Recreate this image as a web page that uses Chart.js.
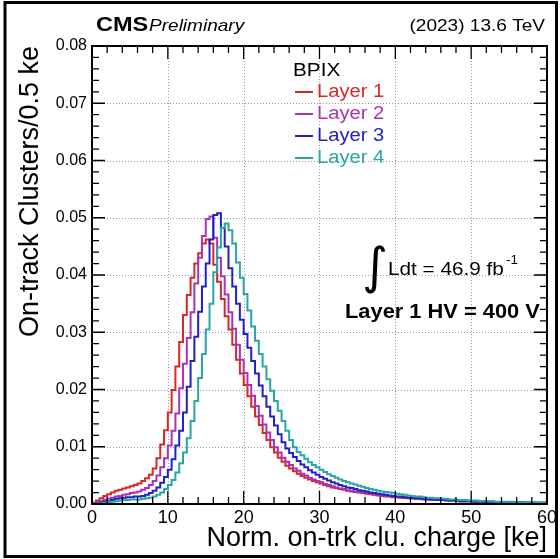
<!DOCTYPE html>
<html>
<head>
<meta charset="utf-8">
<script src="https://cdn.jsdelivr.net/npm/chart.js@4.4.0/dist/chart.umd.min.js"></script>
<style>
  html, body { margin: 0; padding: 0; background: #fff; }
</style>
</head>
<body>
<canvas id="myChart" width="560" height="559"></canvas>
<script>
// histogram binning (ke)
const binWidth = 0.5;
const xMin = 0;
const xMax = 60;

const xTicks = [0, 10, 20, 30, 40, 50, 60];
const yTicks = [0, 0.01, 0.02, 0.03, 0.04, 0.05, 0.06, 0.07, 0.08];

const labels = ['Layer 1', 'Layer 2', 'Layer 3', 'Layer 4'];
const colors = ['#d92727', '#ab33b6', '#2121c8', '#2aa5a5'];

// normalised entries per 0.5 ke bin
let layer1 = [
  0.0002, 0.0006, 0.0010, 0.0014, 0.0017, 0.0020, 0.0023, 0.0025, 0.0027, 0.0029,
  0.0031, 0.0033, 0.0036, 0.0040, 0.0045, 0.0051, 0.0062, 0.0080, 0.0104, 0.0129,
  0.0160, 0.0199, 0.0240, 0.0283, 0.0330, 0.0365, 0.0395, 0.0420, 0.0438, 0.0455,
  0.0462, 0.0455, 0.0418, 0.0388, 0.0358, 0.0328, 0.0305, 0.0278, 0.0252, 0.0228,
  0.0208, 0.0188, 0.0170, 0.0153, 0.0138, 0.0124, 0.0112, 0.0099, 0.0090, 0.0081,
  0.0074, 0.0067, 0.0062, 0.0057, 0.0053, 0.0049, 0.0046, 0.0043, 0.0040, 0.0038,
  0.0036, 0.0033, 0.0031, 0.0029, 0.0028, 0.0026, 0.0025, 0.0023, 0.0022, 0.0021,
  0.0020, 0.0019, 0.0018, 0.0017, 0.0016, 0.0015, 0.0014, 0.0013, 0.0013, 0.0012,
  0.0012, 0.0011, 0.0011, 0.0010, 0.0010, 0.0009, 0.0009, 0.0008, 0.0008, 0.0008,
  0.0007, 0.0007, 0.0007, 0.0006, 0.0006, 0.0006, 0.0005, 0.0005, 0.0005, 0.0005,
  0.0004, 0.0004, 0.0004, 0.0004, 0.0004, 0.0003, 0.0003, 0.0003, 0.0003, 0.0003,
  0.0003, 0.0003, 0.0002, 0.0002, 0.0002, 0.0002, 0.0002, 0.0002, 0.0002, 0.0002
];
let layer2 = [
  0.0001, 0.0003, 0.0005, 0.0007, 0.0009, 0.0011, 0.0013, 0.0014, 0.0016, 0.0017,
  0.0019, 0.0020, 0.0022, 0.0025, 0.0028, 0.0033, 0.0040, 0.0050, 0.0064, 0.0080,
  0.0102, 0.0128, 0.0158, 0.0202, 0.0245, 0.0290, 0.0335, 0.0385, 0.0430, 0.0468,
  0.0498, 0.0502, 0.0465, 0.0430, 0.0398, 0.0366, 0.0335, 0.0306, 0.0278, 0.0252,
  0.0229, 0.0208, 0.0189, 0.0171, 0.0154, 0.0139, 0.0125, 0.0112, 0.0099, 0.0090,
  0.0081, 0.0074, 0.0068, 0.0062, 0.0058, 0.0053, 0.0050, 0.0046, 0.0043, 0.0040,
  0.0038, 0.0035, 0.0033, 0.0031, 0.0029, 0.0027, 0.0026, 0.0024, 0.0023, 0.0022,
  0.0021, 0.0020, 0.0019, 0.0018, 0.0017, 0.0016, 0.0015, 0.0014, 0.0014, 0.0013,
  0.0012, 0.0012, 0.0011, 0.0011, 0.0010, 0.0010, 0.0009, 0.0009, 0.0008, 0.0008,
  0.0008, 0.0007, 0.0007, 0.0007, 0.0006, 0.0006, 0.0006, 0.0005, 0.0005, 0.0005,
  0.0005, 0.0004, 0.0004, 0.0004, 0.0004, 0.0004, 0.0003, 0.0003, 0.0003, 0.0003,
  0.0003, 0.0003, 0.0003, 0.0002, 0.0002, 0.0002, 0.0002, 0.0002, 0.0002, 0.0002
];
let layer3 = [
  0.0000, 0.0001, 0.0002, 0.0004, 0.0005, 0.0007, 0.0009, 0.0010, 0.0011, 0.0012,
  0.0012, 0.0013, 0.0013, 0.0014, 0.0016, 0.0019, 0.0023, 0.0029, 0.0037, 0.0047,
  0.0060, 0.0078, 0.0102, 0.0128, 0.0160, 0.0205, 0.0250, 0.0292, 0.0336, 0.0380,
  0.0420, 0.0462, 0.0505, 0.0508, 0.0482, 0.0450, 0.0412, 0.0380, 0.0350, 0.0322,
  0.0297, 0.0273, 0.0250, 0.0228, 0.0207, 0.0188, 0.0170, 0.0153, 0.0137, 0.0122,
  0.0108, 0.0097, 0.0089, 0.0082, 0.0075, 0.0069, 0.0064, 0.0059, 0.0055, 0.0051,
  0.0047, 0.0044, 0.0041, 0.0038, 0.0036, 0.0033, 0.0031, 0.0029, 0.0028, 0.0026,
  0.0024, 0.0023, 0.0022, 0.0020, 0.0019, 0.0018, 0.0017, 0.0016, 0.0015, 0.0014,
  0.0013, 0.0013, 0.0012, 0.0011, 0.0011, 0.0010, 0.0010, 0.0009, 0.0009, 0.0008,
  0.0008, 0.0007, 0.0007, 0.0007, 0.0006, 0.0006, 0.0006, 0.0005, 0.0005, 0.0005,
  0.0005, 0.0004, 0.0004, 0.0004, 0.0004, 0.0004, 0.0003, 0.0003, 0.0003, 0.0003,
  0.0003, 0.0003, 0.0003, 0.0003, 0.0002, 0.0002, 0.0002, 0.0002, 0.0002, 0.0002
];
let layer4 = [
  0.0000, 0.0001, 0.0001, 0.0002, 0.0003, 0.0004, 0.0005, 0.0006, 0.0007, 0.0007,
  0.0008, 0.0008, 0.0008, 0.0009, 0.0010, 0.0011, 0.0013, 0.0016, 0.0020, 0.0026,
  0.0033, 0.0042, 0.0055, 0.0071, 0.0090, 0.0115, 0.0145, 0.0180, 0.0220, 0.0262,
  0.0305, 0.0350, 0.0405, 0.0448, 0.0482, 0.0490, 0.0478, 0.0455, 0.0422, 0.0395,
  0.0367, 0.0338, 0.0310, 0.0285, 0.0262, 0.0240, 0.0218, 0.0198, 0.0180, 0.0163,
  0.0145, 0.0128, 0.0112, 0.0099, 0.0091, 0.0085, 0.0079, 0.0073, 0.0068, 0.0064,
  0.0060, 0.0056, 0.0052, 0.0049, 0.0046, 0.0043, 0.0040, 0.0038, 0.0036, 0.0034,
  0.0032, 0.0030, 0.0028, 0.0026, 0.0025, 0.0023, 0.0022, 0.0021, 0.0020, 0.0019,
  0.0018, 0.0017, 0.0016, 0.0015, 0.0014, 0.0013, 0.0013, 0.0012, 0.0011, 0.0011,
  0.0010, 0.0010, 0.0009, 0.0009, 0.0008, 0.0008, 0.0007, 0.0007, 0.0007, 0.0006,
  0.0006, 0.0006, 0.0005, 0.0005, 0.0005, 0.0005, 0.0004, 0.0004, 0.0004, 0.0004,
  0.0004, 0.0003, 0.0003, 0.0003, 0.0003, 0.0003, 0.0002, 0.0002, 0.0002, 0.0002
];

// bin left edges + closing edge, drawn as steps
function toSteps(values) {
  let pts = values.map((v, i) => ({x: xMin + i * binWidth, y: v}));
  pts.push({x: xMin + values.length * binWidth, y: values[values.length - 1]});
  return pts;
}

const sx = 1.12; // the original text is a bit wide
function drawText(ctx, str, x, y, font, color, align) {
  ctx.save();
  ctx.font = font;
  ctx.fillStyle = color;
  ctx.textAlign = align || 'left';
  ctx.textBaseline = 'alphabetic';
  ctx.translate(x, y);
  ctx.scale(sx, 1);
  ctx.fillText(str, 0, 0);
  ctx.restore();
}

const rootStyle = {
  id: 'rootStyle',
  beforeDatasetsDraw(chart) {
    const {ctx, chartArea: a, scales: {x, y}} = chart;
    ctx.save();
    ctx.strokeStyle = '#999';
    ctx.lineWidth = 1;
    ctx.setLineDash([1, 2]);
    ctx.beginPath();
    xTicks.slice(1, -1).forEach(v => {
      const px = Math.round(x.getPixelForValue(v)) + 0.5;
      ctx.moveTo(px, a.top); ctx.lineTo(px, a.bottom);
    });
    yTicks.slice(1, -1).forEach(v => {
      const py = Math.round(y.getPixelForValue(v)) + 0.5;
      ctx.moveTo(a.left, py); ctx.lineTo(a.right, py);
    });
    ctx.stroke();
    ctx.restore();
  },
  afterDatasetsDraw(chart) {
    const {ctx, chartArea: a, scales: {x, y}} = chart;
    ctx.save();
    ctx.strokeStyle = '#000';
    ctx.lineWidth = 1.3;
    ctx.beginPath();
    // x ticks: major 10, minor 2
    for (let i = 0; i <= 30; i++) {
      const px = x.getPixelForValue(xMin + i * 2);
      const len = i % 5 === 0 ? 13 : 7;
      ctx.moveTo(px, a.bottom); ctx.lineTo(px, a.bottom - len);
      ctx.moveTo(px, a.top); ctx.lineTo(px, a.top + len);
    }
    // y ticks: major 0.01, minor 0.002
    for (let i = 0; i <= 40; i++) {
      const py = y.getPixelForValue(i * 0.002);
      const len = i % 5 === 0 ? 13 : 7;
      ctx.moveTo(a.left, py); ctx.lineTo(a.left + len, py);
      ctx.moveTo(a.right, py); ctx.lineTo(a.right - len, py);
    }
    ctx.stroke();
    ctx.lineWidth = 2;
    ctx.strokeRect(a.left, a.top, a.right - a.left, a.bottom - a.top);
    ctx.restore();
  },
  afterDraw(chart) {
    const ctx = chart.ctx;
    const f = 'Liberation Sans, Arial, sans-serif';

    drawText(ctx, 'CMS', 96, 31, 'bold 21px ' + f, '#000');
    drawText(ctx, 'Preliminary', 149, 31, 'italic 17px ' + f, '#000');
    drawText(ctx, '(2023) 13.6 TeV', 545, 31, '17px ' + f, '#000', 'right');

    // legend
    drawText(ctx, 'BPIX', 293, 76, '18.5px ' + f, '#000');
    chart.data.datasets.forEach((ds, i) => {
      const base = 97 + i * 22;
      ctx.save();
      ctx.strokeStyle = ds.borderColor;
      ctx.lineWidth = 2;
      ctx.beginPath();
      ctx.moveTo(295, base - 5);
      ctx.lineTo(313, base - 5);
      ctx.stroke();
      ctx.restore();
      drawText(ctx, ds.label, 317, base, '18px ' + f, ds.borderColor);
    });

    // luminosity and HV
    ctx.save();
    ctx.font = '50px DejaVu Sans';
    ctx.fillStyle = '#000';
    ctx.fillText('\u222B', 362, 283);
    ctx.restore();
    drawText(ctx, 'Ldt = 46.9 fb', 388, 275, '18.5px ' + f, '#000');
    drawText(ctx, '-1', 506, 264, '12px ' + f, '#000');
    drawText(ctx, 'Layer 1 HV = 400 V', 345, 318, 'bold 19.5px ' + f, '#000');

    // canvas border
    ctx.save();
    ctx.strokeStyle = '#000';
    ctx.lineWidth = 3;
    ctx.strokeRect(5, 2.5, 551.5, 554);
    ctx.restore();
  }
};

Chart.defaults.font.family = 'Liberation Sans, Arial, sans-serif';
Chart.defaults.color = '#000';

let mychart = document.getElementById('myChart');

let chart = new Chart(mychart, {
  type: 'line',
  data: {
    datasets: [layer1, layer2, layer3, layer4].map((vals, i) => ({
      label: labels[i],
      data: toSteps(vals),
      borderColor: colors[i],
      borderWidth: 2,
      pointRadius: 0,
      fill: false,
      stepped: 'before',
      order: 4 - i
    }))
  },
  options: {
    responsive: false,
    animation: false,
    events: [],
    layout: {padding: {left: 0, right: 12, top: 46, bottom: 0}},
    plugins: {
      legend: {display: false},
      tooltip: {enabled: false}
    },
    scales: {
      x: {
        type: 'linear',
        min: xMin,
        max: xMax,
        afterBuildTicks: s => { s.ticks = xTicks.map(v => ({value: v})); },
        afterFit: s => { s.height = 55; },
        ticks: {font: {size: 18}, padding: 3, maxRotation: 0, autoSkip: false},
        grid: {display: false, drawTicks: false},
        border: {display: false},
        title: {
          display: true,
          text: 'Norm. on-trk clu. charge [ke]',
          align: 'end',
          font: {size: 27},
          padding: {top: 0, bottom: 4}
        }
      },
      y: {
        min: 0,
        max: 0.08,
        afterBuildTicks: s => { s.ticks = yTicks.map(v => ({value: v})); },
        afterFit: s => { s.width = 92; },
        ticks: {font: {size: 16}, padding: 5, callback: v => v.toFixed(2)},
        grid: {display: false, drawTicks: false},
        border: {display: false},
        title: {
          display: true,
          text: 'On-track Clusters/0.5 ke',
          align: 'end',
          font: {size: 27},
          padding: {top: 14, bottom: 0}
        }
      }
    }
  },
  plugins: [rootStyle]
});
</script>
</body>
</html>
